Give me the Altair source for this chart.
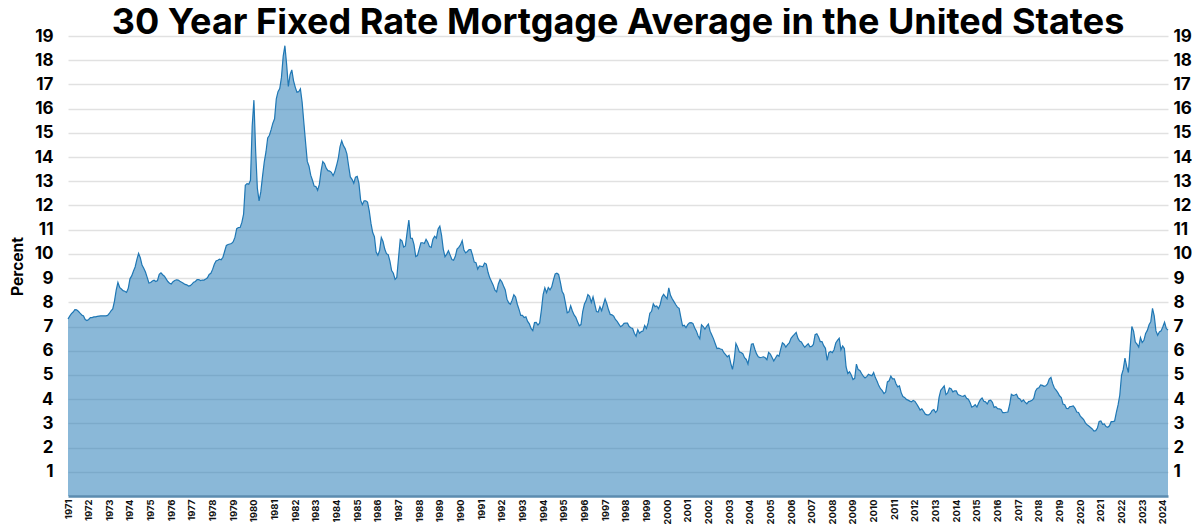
import altair as alt
import pandas as pd

FONT = "Inter"
FIRST_YEAR = 1971
YEAR_TICKS = list(range(54))  # 1971 ... 2024
PERCENT_TICKS = list(range(1, 20))

# Monthly averages in percent (starts April 1971)
RATES_1970S = [
    7.31, 7.43, 7.53, 7.60, 7.70, 7.69, 7.63, 7.55, 7.48,
    7.44, 7.29, 7.25, 7.29, 7.37, 7.37, 7.40, 7.40, 7.42, 7.43, 7.44, 7.44,
    7.44, 7.44, 7.46, 7.54, 7.65, 7.73, 8.05, 8.50, 8.82, 8.62, 8.55, 8.48,
    8.46, 8.41, 8.58, 8.97, 9.09, 9.28, 9.46, 9.76, 10.02, 9.84, 9.54, 9.41,
    9.25, 9.03, 8.80, 8.82, 8.88, 8.91, 8.86, 8.90, 9.16, 9.22, 9.14, 9.08,
    8.97, 8.86, 8.79, 8.76, 8.85, 8.90, 8.93, 8.92, 8.87, 8.83, 8.79, 8.74,
    8.72, 8.67, 8.69, 8.75, 8.83, 8.86, 8.94, 8.94, 8.90, 8.92, 8.92, 8.96,
    9.01, 9.15, 9.20, 9.36, 9.57, 9.71, 9.74, 9.78, 9.76, 9.86, 10.11, 10.35,
    10.39, 10.41, 10.43, 10.50, 10.69, 11.04, 11.09, 11.09, 11.30, 11.64, 12.83, 12.90,
]
RATES_1980S = [
    12.88, 13.04, 15.28, 16.35, 14.26, 12.71, 12.19, 12.56, 13.20, 13.79, 14.21, 14.79,
    14.90, 15.13, 15.40, 15.58, 16.40, 16.70, 16.83, 17.29, 18.16, 18.60, 17.83, 16.92,
    17.40, 17.60, 17.16, 16.89, 16.68, 16.70, 16.82, 16.27, 15.43, 14.61, 13.82, 13.62,
    13.25, 13.04, 12.80, 12.78, 12.63, 12.87, 13.42, 13.81, 13.73, 13.54, 13.44, 13.42,
    13.37, 13.23, 13.39, 13.65, 13.94, 14.42, 14.67, 14.47, 14.35, 14.13, 13.64, 13.18,
    13.08, 12.92, 13.17, 13.20, 12.91, 12.22, 12.03, 12.19, 12.19, 12.14, 11.78, 11.26,
    10.88, 10.71, 10.08, 9.94, 10.14, 10.68, 10.51, 10.20, 10.01, 9.97, 9.70, 9.31,
    9.20, 8.95, 9.03, 9.83, 10.60, 10.54, 10.28, 10.33, 10.89, 11.40, 10.65, 10.64,
    10.38, 9.89, 9.93, 10.20, 10.46, 10.46, 10.43, 10.60, 10.48, 10.30, 10.27, 10.61,
    10.73, 10.65, 11.03, 11.15, 10.77, 10.20, 9.88, 9.99, 10.13, 9.95, 9.77, 9.74,
]
RATES_1990S = [
    9.90, 10.20, 10.27, 10.37, 10.55, 10.16, 10.04, 10.10, 10.18, 10.18, 9.95, 9.66,
    9.64, 9.37, 9.50, 9.49, 9.47, 9.62, 9.58, 9.24, 9.01, 8.86, 8.71, 8.50,
    8.43, 8.76, 8.94, 8.85, 8.67, 8.51, 8.13, 7.98, 7.92, 8.09, 8.31, 8.22,
    7.92, 7.71, 7.46, 7.46, 7.37, 7.40, 7.21, 7.11, 6.92, 6.83, 7.16, 7.17,
    7.06, 7.15, 7.68, 8.32, 8.60, 8.40, 8.61, 8.51, 8.64, 8.93, 9.17, 9.20,
    9.15, 8.83, 8.46, 8.32, 7.96, 7.57, 7.61, 7.86, 7.64, 7.48, 7.38, 7.20,
    7.03, 7.08, 7.62, 7.93, 8.07, 8.32, 8.25, 8.00, 8.23, 7.92, 7.62, 7.60,
    7.82, 7.65, 7.90, 8.14, 7.94, 7.69, 7.50, 7.48, 7.43, 7.29, 7.21, 7.10,
    6.99, 7.04, 7.13, 7.14, 7.14, 7.00, 6.95, 6.92, 6.72, 6.60, 6.87, 6.72,
    6.79, 6.81, 7.04, 6.92, 7.15, 7.55, 7.63, 7.94, 7.82, 7.85, 7.74, 7.91,
]
RATES_2000S = [
    8.21, 8.33, 8.24, 8.15, 8.60, 8.29, 8.15, 8.03, 7.91, 7.80, 7.75, 7.38,
    7.03, 7.05, 6.95, 7.08, 7.15, 7.16, 7.13, 6.95, 6.82, 6.62, 6.50, 7.07,
    7.00, 6.89, 7.01, 7.10, 6.81, 6.65, 6.49, 6.29, 6.09, 6.11, 6.07, 6.05,
    5.92, 5.84, 5.75, 5.81, 5.48, 5.23, 5.63, 6.30, 6.15, 5.95, 5.93, 5.88,
    5.71, 5.64, 5.45, 5.83, 6.27, 6.29, 6.06, 5.87, 5.75, 5.72, 5.73, 5.75,
    5.71, 5.63, 5.93, 5.86, 5.72, 5.58, 5.70, 5.82, 5.77, 6.07, 6.33, 6.27,
    6.15, 6.25, 6.32, 6.51, 6.60, 6.68, 6.76, 6.52, 6.40, 6.36, 6.24, 6.14,
    6.22, 6.29, 6.16, 6.18, 6.26, 6.66, 6.70, 6.57, 6.38, 6.38, 6.21, 6.10,
    5.60, 5.92, 5.97, 5.92, 6.04, 6.32, 6.43, 6.52, 6.04, 6.20, 6.09, 5.33,
    5.06, 5.13, 5.00, 4.81, 4.86, 5.45, 5.22, 5.19, 5.06, 4.95, 4.88, 4.93,
]
RATES_2010S = [
    5.03, 4.99, 4.97, 5.10, 4.89, 4.74, 4.56, 4.43, 4.35, 4.23, 4.30, 4.71,
    4.76, 4.95, 4.84, 4.84, 4.64, 4.51, 4.55, 4.27, 4.11, 4.07, 3.99, 3.96,
    3.92, 3.89, 3.95, 3.91, 3.80, 3.68, 3.55, 3.60, 3.50, 3.38, 3.35, 3.35,
    3.41, 3.53, 3.57, 3.45, 3.54, 4.07, 4.37, 4.46, 4.55, 4.19, 4.26, 4.46,
    4.43, 4.30, 4.34, 4.34, 4.19, 4.16, 4.13, 4.12, 4.16, 4.04, 4.00, 3.86,
    3.67, 3.71, 3.77, 3.67, 3.84, 3.98, 4.05, 3.91, 3.89, 3.80, 3.94, 3.96,
    3.87, 3.66, 3.69, 3.61, 3.60, 3.57, 3.44, 3.44, 3.46, 3.47, 3.77, 4.20,
    4.15, 4.17, 4.20, 4.05, 4.01, 3.90, 3.97, 3.88, 3.81, 3.90, 3.92, 3.95,
    4.03, 4.33, 4.44, 4.47, 4.59, 4.57, 4.53, 4.55, 4.63, 4.83, 4.90, 4.64,
    4.46, 4.37, 4.27, 4.14, 4.07, 3.80, 3.77, 3.62, 3.61, 3.69, 3.70, 3.72,
]
RATES_2020S = [
    3.62, 3.47, 3.45, 3.31, 3.23, 3.16, 3.02, 2.94, 2.89, 2.83, 2.77, 2.68,
    2.70, 2.81, 3.08, 3.10, 2.96, 2.98, 2.87, 2.84, 2.90, 3.07, 3.07, 3.10,
    3.45, 3.76, 4.17, 4.98, 5.23, 5.70, 5.35, 5.10, 6.11, 7.00, 6.81, 6.36,
    6.27, 6.15, 6.54, 6.34, 6.43, 6.71, 6.84, 7.07, 7.20, 7.75, 7.44, 6.82,
    6.64, 6.78, 6.82, 6.99, 7.18, 6.92, 6.85,
]


def build_frame():
    rates = (
        RATES_1970S + RATES_1980S + RATES_1990S + RATES_2000S + RATES_2010S + RATES_2020S
    )
    # x position in years since the first observation
    return pd.DataFrame({"t": [i / 12 for i in range(len(rates))], "rate": rates})


def plot_rates(df):
    x = alt.X(
        "t:Q",
        scale=alt.Scale(domain=[0, (len(df) - 1) / 12], nice=False, zero=False),
        axis=alt.Axis(
            values=YEAR_TICKS,
            labelExpr=f"'' + (datum.value + {FIRST_YEAR})",
            labelAngle=270,
            labelFont=FONT,
            labelFontSize=9.5,
            labelFontWeight="bold",
            labelColor="#111111",
            labelPadding=3,
            labelOverlap=False,
            labelFlush=False,
            ticks=False,
            grid=False,
            domainColor="#5b8cb0",
            domainWidth=2.5,
            zindex=1,
            title=None,
        ),
    )
    y_scale = alt.Scale(domain=[0, 19], nice=False)
    label_style = dict(
        labelFont=FONT,
        labelFontSize=17,
        labelFontWeight="bold",
        labelColor="black",
        ticks=False,
        domain=False,
    )

    area = alt.Chart(df).mark_area(fill="#1f77b4", fillOpacity=0.52).encode(
        x=x,
        y=alt.Y(
            "rate:Q",
            scale=y_scale,
            axis=alt.Axis(
                values=PERCENT_TICKS,
                grid=True,
                gridColor="#e1e1e1",
                gridWidth=1.5,
                labelPadding=15,
                title="Percent",
                titleFont=FONT,
                titleFontSize=15.5,
                titleFontWeight="bold",
                titleColor="black",
                titlePadding=9,
                **label_style,
            ),
        ),
    )

    line = alt.Chart(df).mark_line(color="#1f77b4", strokeWidth=1.2).encode(
        x=x,
        y=alt.Y(
            "rate:Q",
            scale=y_scale,
            axis=alt.Axis(
                orient="right",
                values=PERCENT_TICKS,
                grid=False,
                labelPadding=5,
                title=None,
                **label_style,
            ),
        ),
    )

    chart = (
        alt.layer(area, line)
        .resolve_scale(y="shared")
        .resolve_axis(y="independent")
        .properties(
            width=1100,
            height=460,
            autosize=alt.AutoSizeParams(type="none"),
            padding={"left": 60, "top": 28, "right": 24, "bottom": 28},
            title=alt.Title(
                "30 Year Fixed Rate Mortgage Average in the United States",
                font=FONT,
                fontSize=36,
                fontWeight="bold",
                color="black",
                anchor="middle",
                frame="group",
                offset=-15,
            ),
        )
        .configure_view(stroke=None)
    )
    return chart


chart = plot_rates(build_frame())
chart.save("out.html", embed_options={"renderer": "svg", "actions": False})
